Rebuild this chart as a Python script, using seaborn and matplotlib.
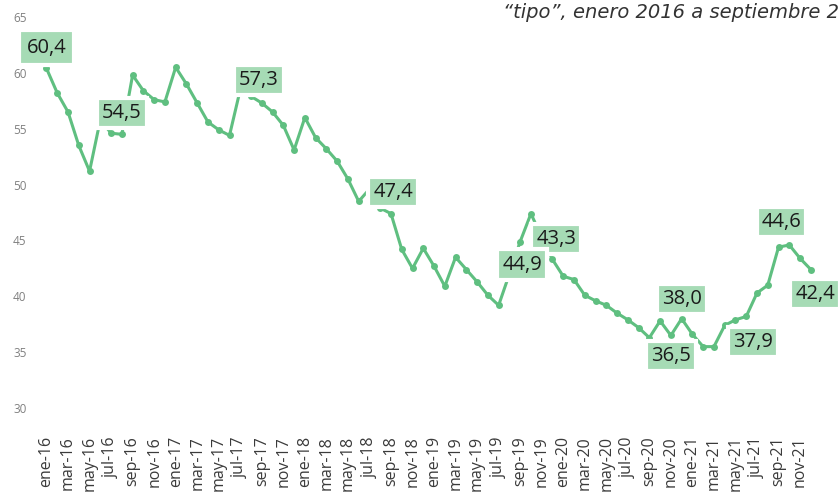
import pandas as pd
import matplotlib
matplotlib.use("Agg")
import matplotlib.pyplot as plt
import seaborn as sns

# valores mensuales, ene-16 a dic-21
valores = [
    60.4, 58.2, 56.5, 53.5, 51.2, 55.8, 54.6, 54.5, 59.8, 58.4, 57.6, 57.4,
    60.5, 59.0, 57.3, 55.6, 54.9, 54.4, 58.5, 57.9, 57.3, 56.5, 55.3, 53.1,
    56.0, 54.2, 53.2, 52.1, 50.5, 48.5, 49.6, 47.9, 47.4, 44.2, 42.5, 44.3,
    42.7, 40.9, 43.5, 42.4, 41.3, 40.1, 39.2, 42.0, 44.9, 47.4, 45.3, 43.3,
    41.8, 41.5, 40.1, 39.6, 39.2, 38.5, 37.9, 37.2, 36.3, 37.8, 36.5, 38.0,
    36.6, 35.5, 35.5, 37.4, 37.9, 38.2, 40.3, 41.0, 44.4, 44.6, 43.4, 42.4,
]

meses = ['ene', 'mar', 'may', 'jul', 'sep', 'nov']
anios = ['16', '17', '18', '19', '20', '21']
etiquetas_x = [f'{m}-{a}' for a in anios for m in meses]

# puntos con etiqueta de valor
puntos_etiqueta = [0, 7, 20, 32, 47, 44, 58, 59, 64, 69, 71]
# desplazamiento de cada etiqueta (puntos)
desplazamientos = [(0, 15), (0, 15.5), (-2, 16.4), (1.6, 15.8), (2.7, 14.5),
                   (1.6, -16.5), (0, -14.8), (0.4, 14.3), (12.4, -16.3),
                   (-5.6, 16.2), (3.1, -17.8)]

df = pd.DataFrame({'mes': range(len(valores)), 'valor': valores})

verde = '#5fbf80'
verde_caja = '#a6dbb5'

sns.set_theme(style='white')
plt.rcParams['font.family'] = ['Open Sans', 'DejaVu Sans']

fig = plt.figure(figsize=(8.4, 4.97), dpi=100)
ax = fig.add_axes([0.0515, 0.1227, 0.933, 0.8431])

sns.lineplot(data=df, x='mes', y='valor', color=verde, linewidth=2.2,
             marker='o', markersize=5, markeredgewidth=0, ax=ax)

for k, (i, (dx, dy)) in enumerate(zip(puntos_etiqueta, desplazamientos)):
    texto = f'{valores[i]:.1f}'.replace('.', ',')
    pad = 0.38 if i == 0 else 0.25
    ax.annotate(texto, xy=(i, valores[i]), xytext=(dx, dy),
                textcoords='offset points', ha='center', va='center',
                fontsize=14.5, color='#1a1a1a', annotation_clip=False,
                zorder=3 + k * 0.1,
                bbox=dict(boxstyle=f'square,pad={pad}', fc=verde_caja,
                          ec='white', lw=3))

ax.set_xlim(-0.3, 72.5)
ax.set_ylim(27.5, 65)
ax.set_yticks(range(30, 70, 5))
ax.set_xticks(range(0, 72, 2))
ax.set_xticklabels(etiquetas_x, rotation=90, fontsize=11.5, color='#3a3a3a')
ax.tick_params(axis='y', labelsize=8.5, labelcolor='#808080', pad=12, length=0)
ax.tick_params(axis='x', pad=0, length=0)
ax.set_xlabel('')
ax.set_ylabel('')
sns.despine(ax=ax, left=True, bottom=True)

fig.text(0.999, 0.975, '\u201ctipo\u201d, enero 2016 a septiembre 2', ha='right',
         va='center', fontsize=14, style='italic', color='#333333',
         family='DejaVu Sans')

fig.savefig('out.png', dpi=100)
